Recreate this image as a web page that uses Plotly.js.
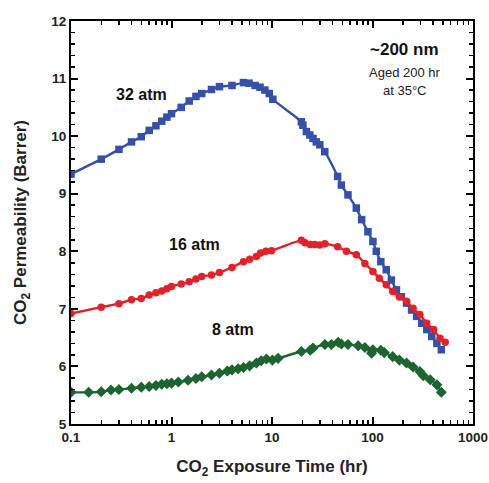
<!DOCTYPE html>
<html>
<head>
<meta charset="utf-8">
<script src="https://cdn.plot.ly/plotly-3.0.1.min.js"></script>
<style>html,body{margin:0;padding:0;background:#fff;}#chart{width:489px;height:483px;}</style>
</head>
<body>
<div id="chart"></div>
<script>
// 32 atm series
const time32 = [0.1,0.2,0.3,0.4,0.5,0.6,0.7,0.8,0.9,1.0,1.25,1.5,1.75,2.0,2.5,3.0,4.0,5.2,5.9,6.8,7.6,8.5,9.4,10.2,
  19.6,20.3,22,23.8,25.6,27.6,29.9,33.5,45,49,57,69,78,90,101,109,121,137,154,173,194,218,245,275,309,347,389,437,484];
const perm32 = [9.34,9.60,9.77,9.90,9.99,10.10,10.18,10.26,10.33,10.39,10.50,10.61,10.69,10.74,10.81,10.86,10.88,10.93,10.92,10.88,10.85,10.80,10.74,10.64,
  10.25,10.19,10.08,10.02,9.96,9.90,9.85,9.73,9.30,9.15,8.98,8.75,8.55,8.34,8.17,8.00,7.82,7.68,7.50,7.33,7.21,7.10,6.98,6.87,6.75,6.64,6.52,6.40,6.29];
// 16 atm series
const time16 = [0.1,0.2,0.3,0.4,0.5,0.6,0.7,0.8,0.9,1.0,1.25,1.5,1.75,2.0,2.5,3.0,4.0,5.2,6.0,7.0,7.7,8.7,9.9,
  19.6,21.3,24,26.6,29.8,33.6,45,55,69,84,101,117,137,159,185,218,253,296,347,405,470,529];
const perm16 = [6.92,7.03,7.09,7.16,7.18,7.24,7.28,7.31,7.35,7.39,7.43,7.47,7.52,7.56,7.59,7.63,7.72,7.82,7.86,7.91,7.97,8.00,8.01,
  8.19,8.15,8.12,8.12,8.11,8.13,8.08,8.00,7.94,7.79,7.65,7.53,7.42,7.30,7.21,7.13,7.01,6.90,6.75,6.64,6.49,6.42];
// 8 atm series
const time8 = [0.1,0.15,0.2,0.25,0.3,0.4,0.5,0.6,0.7,0.8,0.9,1.0,1.17,1.46,1.75,2.0,2.5,3.0,3.6,4.0,4.6,5.2,6.0,7.0,7.8,8.8,10.1,11.5,
  19.6,24,25.6,33.6,39,45.6,49,57,72,84,98,101,121,131,159,185,218,253,296,320,375,437,484];
const perm8 = [5.55,5.55,5.56,5.59,5.60,5.62,5.64,5.65,5.67,5.69,5.70,5.71,5.73,5.76,5.79,5.82,5.85,5.88,5.92,5.94,5.96,5.98,6.01,6.06,6.10,6.13,6.11,6.14,
  6.26,6.28,6.32,6.38,6.38,6.42,6.39,6.38,6.36,6.33,6.23,6.29,6.28,6.24,6.17,6.11,6.06,5.99,5.91,5.84,5.77,5.68,5.55];

const seriesNames = ['32 atm','16 atm','8 atm'];
const xTickVals = [0.1,1,10,100,1000];
const xTickText = ['0.1','1','10','100','1000'];

const FONT = 'Liberation Sans, Arial, sans-serif';
const traces = [
  {x: time32, y: perm32, name: seriesNames[0], mode: 'lines+markers', line: {color: '#3450a8', width: 2.4, shape: 'spline', smoothing: 0.6},
   marker: {symbol: 'square', size: 7.5, color: '#3450a8'}},
  {x: time16, y: perm16, name: seriesNames[1], mode: 'lines+markers', line: {color: '#e0222b', width: 2.4, shape: 'spline', smoothing: 0.6},
   marker: {symbol: 'circle', size: 7.5, color: '#e0222b'}},
  {x: time8, y: perm8, name: seriesNames[2], mode: 'lines+markers', line: {color: '#1d6530', width: 2.4, shape: 'spline', smoothing: 0.6},
   marker: {symbol: 'diamond', size: 8.5, color: '#1d6530'}}
];

const axCommon = {
  showgrid: false, zeroline: false, showline: true, linecolor: '#000', linewidth: 2,
  mirror: 'allticks', ticks: 'inside', ticklen: 7, tickwidth: 2, tickcolor: '#000',
  tickfont: {family: FONT, size: 13.5, color: '#222', weight: 'bold'}
};

const annFont = {family: FONT, size: 16, color: '#111', weight: 'bold'};
const layout = {
  width: 489, height: 483,
  margin: {l: 71, r: 16, t: 21, b: 59},
  paper_bgcolor: '#fff', plot_bgcolor: '#fff',
  showlegend: false,
  xaxis: Object.assign({}, axCommon, {
    type: 'log', range: [-1, 3], tickvals: xTickVals, ticktext: xTickText,
    minor: {ticks: 'inside', ticklen: 4, tickwidth: 1.5, tickcolor: '#000', dtick: 'D1', showgrid: false},
    title: {text: 'CO<sub>2</sub> Exposure Time (hr)', font: {family: FONT, size: 17, color: '#222', weight: 'bold'}, standoff: 16}
  }),
  yaxis: Object.assign({}, axCommon, {
    range: [5, 12], dtick: 1, tick0: 5,
    minor: {ticks: 'inside', ticklen: 4, tickwidth: 1.5, tickcolor: '#000', dtick: 0.2, showgrid: false},
    title: {text: 'CO<sub>2</sub> Permeability (Barrer)', font: {family: FONT, size: 17, color: '#222', weight: 'bold'}, standoff: 20}
  }),
  annotations: [
    {x: Math.log10(0.5), y: 10.72, xref: 'x', yref: 'y', text: '32 atm', showarrow: false, font: annFont},
    {x: Math.log10(1.7), y: 8.11, xref: 'x', yref: 'y', text: '16 atm', showarrow: false, font: annFont},
    {x: Math.log10(4.1), y: 6.65, xref: 'x', yref: 'y', text: '8 atm', showarrow: false, font: annFont},
    {x: Math.log10(209), y: 11.5, xref: 'x', yref: 'y', text: '~200 nm', showarrow: false,
     font: {family: FONT, size: 17, color: '#111', weight: 'bold'}},
    {x: Math.log10(209), y: 11.1, xref: 'x', yref: 'y', text: 'Aged 200 hr', showarrow: false,
     font: {family: FONT, size: 13, color: '#222'}},
    {x: Math.log10(209), y: 10.8, xref: 'x', yref: 'y', text: 'at 35°C', showarrow: false,
     font: {family: FONT, size: 13, color: '#222'}}
  ]
};

Plotly.newPlot('chart', traces, layout, {displayModeBar: false, staticPlot: true});
</script>
</body>
</html>
